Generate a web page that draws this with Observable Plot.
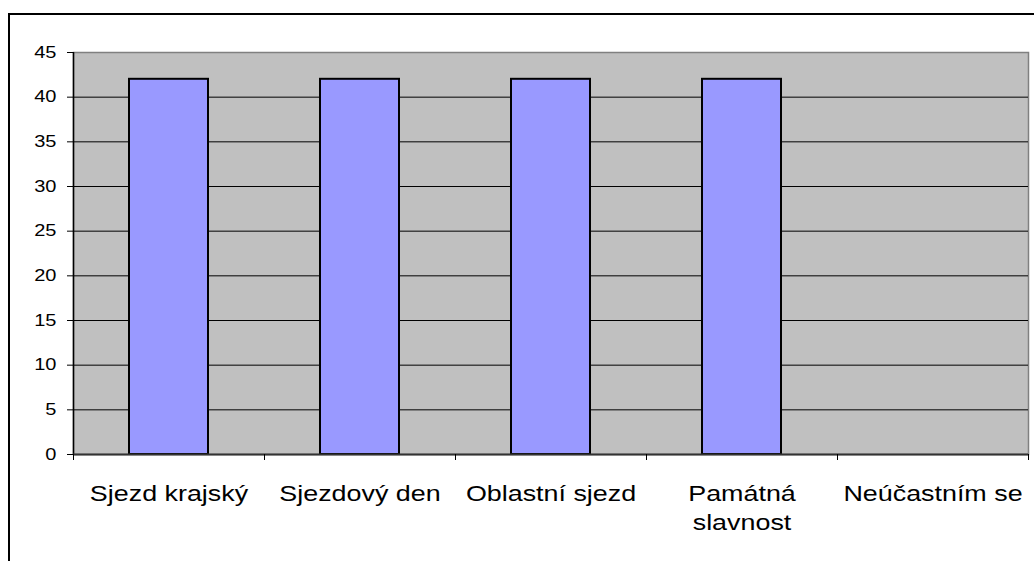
<!DOCTYPE html>
<html>
<head>
<meta charset="utf-8">
<script src="https://cdn.jsdelivr.net/npm/d3@7"></script>
<script src="https://cdn.jsdelivr.net/npm/@observablehq/plot@0.6"></script>
<style>
  html, body { margin: 0; padding: 0; background: white; overflow: hidden; }
  #wrap { position: relative; width: 1034px; height: 561px; }
  #border { position: absolute; left: 8px; top: 13px; width: 3000px; height: 3000px; border: 2px solid black; pointer-events: none; }
</style>
</head>
<body>
<div id="wrap"><div id="chart"></div><div id="border"></div></div>
<script>
const categories = ["Sjezd krajský", "Sjezdový den", "Oblastní sjezd", "Památná\nslavnost", "Neúčastním se"];
const values = [42, 42, 42, 42, 0];
const yTicks = [0, 5, 10, 15, 20, 25, 30, 35, 40, 45];

const data = categories.map((c, i) => ({i, label: c, value: values[i]}));
const boundaries = d3.range(0, categories.length + 1);
const font = "'Liberation Sans', Arial, sans-serif";

const chart = Plot.plot({
  width: 1034,
  height: 561,
  marginTop: 52,
  marginBottom: 107,
  marginLeft: 73,
  marginRight: 6,
  style: {fontFamily: font, color: "black", background: "white"},
  x: {domain: [0, categories.length], axis: null},
  y: {domain: [0, 45], axis: null},
  marks: [
    Plot.frame({fill: "#c0c0c0", stroke: "#808080", strokeWidth: 1.5}),
    Plot.ruleY(yTicks.filter(t => t > 0 && t < 45), {stroke: "black", strokeWidth: 1}),
    Plot.rectY(data, {
      filter: d => d.value > 0,
      x1: d => d.i, x2: d => d.i + 1, y: "value",
      insetLeft: 56, insetRight: 56,
      fill: "#9999ff", stroke: "black", strokeWidth: 2
    }),
    Plot.ruleX([0], {stroke: "black", strokeWidth: 1.5}),
    Plot.ruleY([0], {stroke: "#333", strokeWidth: 2}),
    Plot.axisY({ticks: yTicks, tickSize: 6, tickPadding: 11, fontSize: 16, stroke: "black", fill: "black", label: null}),
    Plot.axisX({ticks: boundaries, tickSize: 6, tickFormat: () => "", stroke: "black", label: null}),
    Plot.text(data, {
      x: d => d.i + 0.5, y: 0, text: "label",
      dy: 26, lineAnchor: "top", lineHeight: 1.35,
      fontSize: 21.5, fill: "black", fontFamily: font
    })
  ]
});

// widen glyphs horizontally to match the reference's stretched text
chart.querySelectorAll("text").forEach(el => {
  const t = el.getAttribute("transform");
  if (t) el.setAttribute("transform", t + " scale(1.25,1)");
  else {
    const x = +el.getAttribute("x") || 0, y = +el.getAttribute("y") || 0;
    el.setAttribute("transform", `translate(${x},${y}) scale(1.25,1) translate(${-x},${-y})`);
  }
});
document.getElementById("chart").appendChild(chart);
</script>
</body>
</html>
